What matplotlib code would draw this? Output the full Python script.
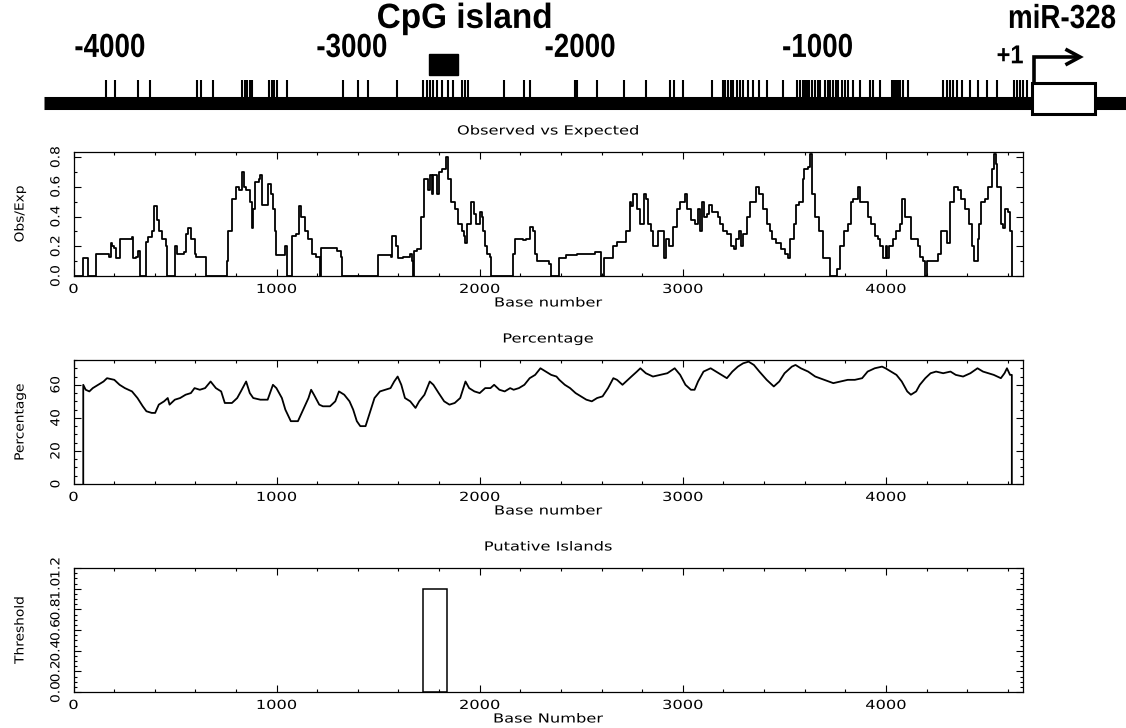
import matplotlib
matplotlib.use("Agg")
import matplotlib.pyplot as plt
from matplotlib.patheffects import AbstractPathEffect
from matplotlib.transforms import Affine2D
from matplotlib.patches import Rectangle

# ---------------- data ----------------
seq_len = 4675
x_major = [0, 1000, 2000, 3000, 4000]
x_minor = list(range(0, 4675, 200))

# Observed vs Expected (step values, position in bases)
oe_x = [0, 46, 69, 109, 174, 183, 192, 200, 209, 227,
        288, 292, 306, 320, 327, 355, 367, 385, 397, 411,
        420, 438, 455, 459, 499, 508, 534, 543, 552, 564,
        578, 596, 604, 648, 654, 754, 762, 780, 798, 815,
        829, 841, 850, 868, 877, 885, 894, 912, 920, 929,
        947, 956, 973, 982, 991, 999, 1026, 1043, 1052, 1078,
        1096, 1110, 1122, 1140, 1157, 1175, 1193, 1215, 1219, 1298,
        1316, 1321, 1500, 1561, 1570, 1588, 1596, 1623, 1658, 1667,
        1672, 1675, 1693, 1711, 1728, 1746, 1754, 1763, 1772, 1790,
        1798, 1816, 1834, 1842, 1860, 1877, 1895, 1913, 1921, 1930,
        1939, 1956, 1974, 1983, 2000, 2009, 2018, 2027, 2035, 2053,
        2058, 2162, 2176, 2211, 2229, 2246, 2264, 2273, 2281, 2308,
        2343, 2352, 2392, 2427, 2481, 2534, 2569, 2596, 2614, 2632,
        2658, 2676, 2711, 2720, 2738, 2747, 2756, 2774, 2791, 2809,
        2818, 2827, 2845, 2853, 2871, 2880, 2889, 2907, 2916, 2933,
        2951, 2969, 2987, 3013, 3022, 3040, 3058, 3075, 3084, 3093,
        3102, 3120, 3129, 3146, 3173, 3182, 3200, 3217, 3235, 3253,
        3262, 3279, 3288, 3297, 3315, 3333, 3359, 3377, 3395, 3413,
        3430, 3439, 3457, 3484, 3501, 3519, 3528, 3546, 3555, 3572,
        3590, 3599, 3617, 3626, 3634, 3652, 3670, 3688, 3714, 3723,
        3759, 3776, 3794, 3812, 3830, 3839, 3862, 3874, 3892, 3910,
        3927, 3945, 3963, 3972, 3986, 3998, 4007, 4016, 4034, 4052,
        4069, 4078, 4092, 4105, 4123, 4140, 4158, 4167, 4185, 4194,
        4202, 4256, 4273, 4291, 4300, 4318, 4336, 4353, 4371, 4389,
        4407, 4424, 4433, 4451, 4460, 4469, 4487, 4505, 4522, 4531,
        4540, 4549, 4566, 4575, 4584, 4602, 4611, 4620, 4623]
oe_y = [0, 0.12, 0, 0.15, 0.13, 0.22, 0.20, 0.19, 0.12, 0.25,
        0.26, 0.12, 0.13, 0.17, 0, 0.23, 0.26, 0.30, 0.47, 0.38,
        0.30, 0.25, 0.20, 0, 0.20, 0.15, 0.15, 0.16, 0.28, 0.32,
        0.25, 0.15, 0.13, 0.13, 0, 0.10, 0.30, 0.52, 0.60, 0.58,
        0.70, 0.60, 0.58, 0.50, 0.32, 0.45, 0.63, 0.65, 0.68, 0.48,
        0.48, 0.62, 0.55, 0.45, 0.30, 0.14, 0.14, 0.20, 0, 0.27,
        0.28, 0.47, 0.40, 0.30, 0.25, 0.15, 0.13, 0, 0.19, 0.17,
        0.13, 0, 0.14, 0.13, 0.27, 0.20, 0.12, 0.13, 0.15, 0.10,
        0, 0.17, 0.18, 0.40, 0.65, 0.58, 0.68, 0.55, 0.68, 0.55,
        0.70, 0.72, 0.80, 0.65, 0.50, 0.45, 0.35, 0.30, 0.27, 0.22,
        0.35, 0.50, 0.42, 0.35, 0.43, 0.40, 0.30, 0.20, 0.15, 0.13,
        0, 0.15, 0.25, 0.24, 0.25, 0.33, 0.30, 0.15, 0.10, 0.10,
        0.08, 0, 0.12, 0.14, 0.15, 0.15, 0.16, 0, 0.12, 0.12,
        0.20, 0.23, 0.23, 0.30, 0.50, 0.47, 0.55, 0.45, 0.35, 0.55,
        0.52, 0.35, 0.30, 0.20, 0.20, 0.30, 0.30, 0.12, 0.25, 0.20,
        0.33, 0.45, 0.50, 0.55, 0.45, 0.38, 0.35, 0.45, 0.30, 0.50,
        0.40, 0.42, 0.48, 0.43, 0.40, 0.35, 0.30, 0.28, 0.20, 0.18,
        0.25, 0.30, 0.20, 0.28, 0.40, 0.50, 0.60, 0.55, 0.45, 0.35,
        0.30, 0.25, 0.22, 0.18, 0.15, 0.12, 0.25, 0.35, 0.48, 0.50,
        0.65, 0.72, 0.73, 0.82, 0.55, 0.40, 0.30, 0.12, 0.12, 0,
        0.05, 0.20, 0.30, 0.35, 0.50, 0.52, 0.60, 0.50, 0.50, 0.40,
        0.35, 0.27, 0.25, 0.20, 0.12, 0.20, 0.12, 0.20, 0.25, 0.30,
        0.35, 0.52, 0.40, 0.40, 0.25, 0.25, 0.20, 0.13, 0.10, 0,
        0.10, 0.15, 0.30, 0.30, 0.22, 0.50, 0.60, 0.58, 0.52, 0.45,
        0.35, 0.20, 0.10, 0.25, 0.35, 0.50, 0.52, 0.60, 0.72, 0.82,
        0.75, 0.60, 0.35, 0.32, 0.45, 0.43, 0.30, 0.28, 0]

# GC percentage
pct_x = [48, 48, 60, 78, 95, 122, 148, 165, 201, 227,
         253, 288, 315, 341, 359, 385, 402, 420, 446, 464,
         473, 499, 525, 552, 578, 596, 622, 648, 675, 701,
         727, 745, 780, 806, 824, 850, 868, 885, 920, 956,
         982, 999, 1026, 1043, 1070, 1105, 1131, 1157, 1170, 1184,
         1210, 1228, 1263, 1289, 1307, 1333, 1359, 1377, 1395, 1412,
         1438, 1456, 1482, 1509, 1535, 1561, 1579, 1596, 1614, 1632,
         1658, 1684, 1702, 1728, 1754, 1772, 1798, 1825, 1851, 1877,
         1904, 1930, 1948, 1974, 2000, 2027, 2053, 2071, 2097, 2123,
         2150, 2167, 2193, 2220, 2246, 2273, 2299, 2325, 2352, 2378,
         2392, 2419, 2445, 2472, 2498, 2525, 2552, 2578, 2605, 2632,
         2658, 2676, 2703, 2729, 2747, 2774, 2791, 2818, 2853, 2889,
         2924, 2960, 2987, 3013, 3040, 3058, 3075, 3102, 3137, 3164,
         3191, 3217, 3244, 3271, 3297, 3324, 3350, 3377, 3413, 3448,
         3475, 3501, 3537, 3555, 3581, 3617, 3652, 3697, 3741, 3776,
         3812, 3847, 3883, 3910, 3945, 3981, 3998, 4025, 4052, 4078,
         4105, 4123, 4149, 4167, 4194, 4220, 4247, 4282, 4318, 4344,
         4380, 4416, 4451, 4478, 4504, 4531, 4566, 4584, 4596, 4611,
         4620, 4620]
pct_y = [0, 60, 57, 56, 58, 60, 62, 64, 63, 60,
         58, 56, 52, 47, 44, 43, 43, 48, 50, 52,
         48, 51, 52, 54, 55, 58, 57, 58, 62, 58,
         56, 49, 49, 52, 56, 62, 55, 52, 51, 51,
         60, 58, 52, 45, 38, 38, 45, 52, 57, 54,
         48, 47, 47, 50, 56, 54, 50, 45, 38, 35,
         35, 42, 52, 56, 57, 58, 62, 65, 60, 52,
         50, 46, 50, 54, 62, 60, 55, 50, 48, 49,
         52, 62, 58, 56, 55, 58, 58, 60, 57, 56,
         58, 57, 58, 60, 64, 66, 70, 68, 66, 65,
         63, 60, 58, 55, 53, 51, 50, 52, 53, 58,
         64, 63, 60, 63, 65, 68, 70, 67, 65, 66,
         67, 70, 66, 60, 57, 57, 62, 68, 70, 68,
         66, 64, 68, 71, 73, 74, 72, 68, 63, 59,
         62, 67, 71, 72, 70, 68, 65, 63, 61, 62,
         63, 63, 64, 68, 70, 71, 70, 68, 66, 62,
         56, 54, 56, 60, 64, 67, 68, 67, 68, 66,
         65, 67, 70, 68, 67, 66, 64, 67, 70, 66,
         66, 0]

# putative island (start, end) and threshold height
island_start, island_end = 1720, 1838
island_height = 1.0

# promoter schematic: CpG sites relative to the TSS (+1)
cpg_sites = [-4017, -3978, -3878, -3826, -3622, -3605, -3553, -3427, -3416, -3405,
             -3394, -3384, -3310, -3297, -3288, -3275, -3232, -2989, -2924, -2880,
             -2755, -2642, -2624, -2611, -2598, -2581, -2559, -2533, -2512, -2473,
             -2460, -2447, -2290, -2204, -2178, -1982, -1974, -1887, -1770, -1674,
             -1570, -1553, -1514, -1388, -1340, -1332, -1319, -1306, -1297, -1280,
             -1267, -1254, -1232, -1210, -1184, -1150, -1080, -1019, -1006, -993,
             -985, -976, -967, -954, -941, -928, -920, -898, -885, -876,
             -863, -850, -842, -824, -811, -798, -777, -746, -703, -690,
             -659, -607, -599, -590, -581, -573, -560, -538, -386, -369,
             -356, -343, -325, -304, -269, -234, -195, -152, -78, -65,
             -52, -39, -22]
scale_labels = ["-4000", "-3000", "-2000", "-1000"]
scale_label_bp = [-4000, -2950, -1960, -930]
cpg_island_bp = (-2616, -2490)
gene_bp = (0, 273)

assert len(oe_x) == len(oe_y) and len(pct_x) == len(pct_y)


# ---------------- helpers ----------------
class Stretch(AbstractPathEffect):
    """Scale glyph paths about their centre (emulates the wide plot font)."""
    def __init__(self, sx=1.0, sy=1.0):
        super().__init__()
        self.sx, self.sy = sx, sy

    def draw_path(self, renderer, gc, tpath, affine, rgbFace=None):
        ext = tpath.get_extents()
        cx = (ext.x0 + ext.x1) / 2
        cy = (ext.y0 + ext.y1) / 2
        local = Affine2D().translate(-cx, -cy).scale(self.sx, self.sy).translate(cx, cy)
        renderer.draw_path(gc, tpath, local + affine, rgbFace)


W, H = 1126, 728
fig = plt.figure(figsize=(W / 100, H / 100), dpi=100)
fig.patch.set_facecolor("white")


def px_box(x0, y0, x1, y1):
    return [x0 / W, 1 - y1 / H, (x1 - x0) / W, (y1 - y0) / H]


PANEL_FONT = "DejaVu Sans"
FS = 9
wide = [Stretch(1.3, 1.0)]
wide_y = [Stretch(1.1, 1.0)]

# ---------------- top schematic ----------------
tss_px, bp_per_px = 1032, 4.338
ax0 = fig.add_axes(px_box(0, 0, W, 125))
ax0.set_xlim(-tss_px * bp_per_px, (W - tss_px) * bp_per_px)
ax0.set_ylim(125, 0)
ax0.axis("off")

line_start = (44 - tss_px) * bp_per_px
ax0.vlines(cpg_sites, 80, 100, colors="k", lw=1.5)
ax0.plot([line_start, (W - tss_px) * bp_per_px], [102.5, 102.5], color="k", lw=9.4,
         solid_capstyle="butt")
ax0.add_patch(Rectangle((cpg_island_bp[0], 54), cpg_island_bp[1] - cpg_island_bp[0], 21,
                        facecolor="k", edgecolor="k", lw=1))
ax0.add_patch(Rectangle((gene_bp[0], 83), gene_bp[1] - gene_bp[0], 31,
                        facecolor="white", edgecolor="k", lw=2.2, zorder=3))
arrow_x = gene_bp[0] + 2 * bp_per_px
arrow_tip = gene_bp[0] + 48 * bp_per_px
ax0.plot([arrow_x, arrow_x, arrow_tip], [83, 57, 57], color="k", lw=2.6,
         solid_joinstyle="miter", solid_capstyle="butt", zorder=4)
ax0.plot([arrow_tip - 13 * bp_per_px, arrow_tip, arrow_tip - 13 * bp_per_px], [50, 57, 64],
         color="k", lw=2.6, solid_joinstyle="miter", zorder=4)

bold = dict(family="Liberation Sans", weight="bold", ha="center", va="center", color="k")
for lab, pos in zip(scale_labels, scale_label_bp):
    ax0.text(pos, 48, lab, fontsize=20, path_effects=[Stretch(1.0, 1.2)], **bold)
ax0.text(-95, 56, "+1", fontsize=17, path_effects=[Stretch(1.0, 1.1)], **bold)
ax0.text(-2460, 19, "CpG island", fontsize=24, path_effects=[Stretch(1.0, 1.05)], **bold)
ax0.text(130, 19, "miR-328", fontsize=20, path_effects=[Stretch(1.0, 1.2)], **bold)

# ---------------- panels ----------------
panels = [
    dict(box=(73.5, 152, 1023, 276), title="Observed vs Expected", ylabel="Obs/Exp",
         xlabel="Base number", ylim=(0, 0.834), yticks=[0, 0.2, 0.4, 0.6, 0.8],
         ylabs=["0.0", "0.2", "0.4", "0.6", "0.8"], yminor=0.1),
    dict(box=(73.5, 360, 1023, 484), title="Percentage", ylabel="Percentage",
         xlabel="Base number", ylim=(0, 75), yticks=[0, 20, 40, 60],
         ylabs=["0", "20", "40", "60"], yminor=5),
    dict(box=(73.5, 568, 1023, 692), title="Putative Islands", ylabel="Threshold",
         xlabel="Base Number", ylim=(0, 1.2), yticks=[0, 0.2, 0.4, 0.6, 0.8, 1.0, 1.2],
         ylabs=["0.0", "0.2", "0.4", "0.6", "0.8", "1.0", "1.2"], yminor=0.05),
]

axes = []
for p in panels:
    x0, y0, x1, y1 = p["box"]
    ax = fig.add_axes(px_box(x0, y0, x1, y1))
    axes.append(ax)
    ax.set_xlim(0, seq_len)
    ax.set_ylim(*p["ylim"])
    ax.set_xticks(x_major)
    ax.set_xticks(x_minor, minor=True)
    ax.set_xticklabels([str(v) for v in x_major], fontsize=FS, family=PANEL_FONT,
                       path_effects=wide)
    ax.set_yticks(p["yticks"])
    ymin, ymax = p["ylim"]
    n = int(round(ymax / p["yminor"]))
    ax.set_yticks([i * p["yminor"] for i in range(n + 1) if i * p["yminor"] <= ymax + 1e-9],
                  minor=True)
    ax.set_yticklabels(p["ylabs"], fontsize=FS, family=PANEL_FONT, rotation=90,
                       va="center", path_effects=wide_y)
    ax.tick_params(which="both", direction="in", top=True, right=True, width=0.8,
                   color="k")
    ax.tick_params(which="major", length=5)
    ax.tick_params(which="minor", length=2.5)
    ax.tick_params(axis="x", pad=5)
    ax.tick_params(axis="y", pad=8)
    for s in ax.spines.values():
        s.set_linewidth(0.9)
    hpx = y1 - y0
    wpx = x1 - x0
    ax.text(0.5, 1 + 21 / hpx, p["title"], transform=ax.transAxes, ha="center",
            va="center", fontsize=FS, family=PANEL_FONT, path_effects=wide)
    ax.text(0.5, -27 / hpx, p["xlabel"], transform=ax.transAxes, ha="center",
            va="center", fontsize=FS, family=PANEL_FONT, path_effects=wide)
    ax.text((20 - x0) / wpx, 0.5, p["ylabel"], transform=ax.transAxes, ha="center",
            va="center", rotation=90, fontsize=FS, family=PANEL_FONT, path_effects=wide_y)

axes[0].plot(oe_x, oe_y, drawstyle="steps-post", color="k", lw=1.3)
axes[1].plot(pct_x, pct_y, color="k", lw=1.3)
axes[2].bar([island_start], [island_height], width=island_end - island_start, align="edge",
            fill=False, edgecolor="k", lw=1.1)

fig.savefig("out.png", dpi=100, facecolor="white")
